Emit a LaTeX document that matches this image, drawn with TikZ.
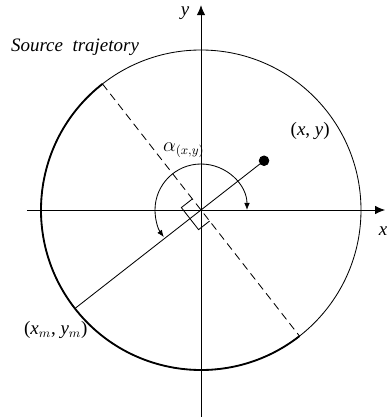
\documentclass[tikz,border=0pt]{standalone}
\usepackage{fontspec}
\setmainfont{Liberation Serif}
\usetikzlibrary{arrows.meta}
\begin{document}
\begin{tikzpicture}[>={Latex[length=7pt,width=6pt]}, font=\fontsize{13.5}{16}\selectfont, line width=0.6pt]
		\useasboundingbox (-5.025,-5.225) rectangle (4.675,5.25);
		\coordinate (O) at (0,0);
		\coordinate (P) at (38:2);
		\coordinate (M) at (218:4);
		\draw[->] (-4.35,0) -- (4.6,0);
		\draw[->] (0,-5.17) -- (0,5.12);
		\draw (O) circle (4);
		\draw[line width=1.3pt] (128:4) arc (128:308:4);
		\draw[dash pattern=on 5.5pt off 3.5pt] (128:4) -- (308:4);
		\draw (M) -- (P);
		\draw[fill=black] (P) circle (0.12);
		\draw (128:0.35) -- ++(218:0.35) -- ++(308:0.7) -- ++(38:0.35);
		\draw[{Latex[length=5pt,width=4pt]}-{Latex[length=5pt,width=4pt]}] (0:1.15) arc (0:216:1.15);
		\node (xlab) at (4.55,-0.54) {\textit{x}};
		\node (ylab) at (-0.4,4.93) {\textit{y}};
		\node (src) at (-3.15,4.08) {\textit{Source\ \ trajetory}};
		\node (plab) at (2.73,1.98) {(\textit{x}, \textit{y})};
		\node (alab) at (-0.43,1.5) {$\alpha_{(x,y)}$};
		\node (mlab) at (-3.63,-3.0) {(\textit{x}$_m$, \textit{y}$_m$)};
	\end{tikzpicture}
\end{document}
